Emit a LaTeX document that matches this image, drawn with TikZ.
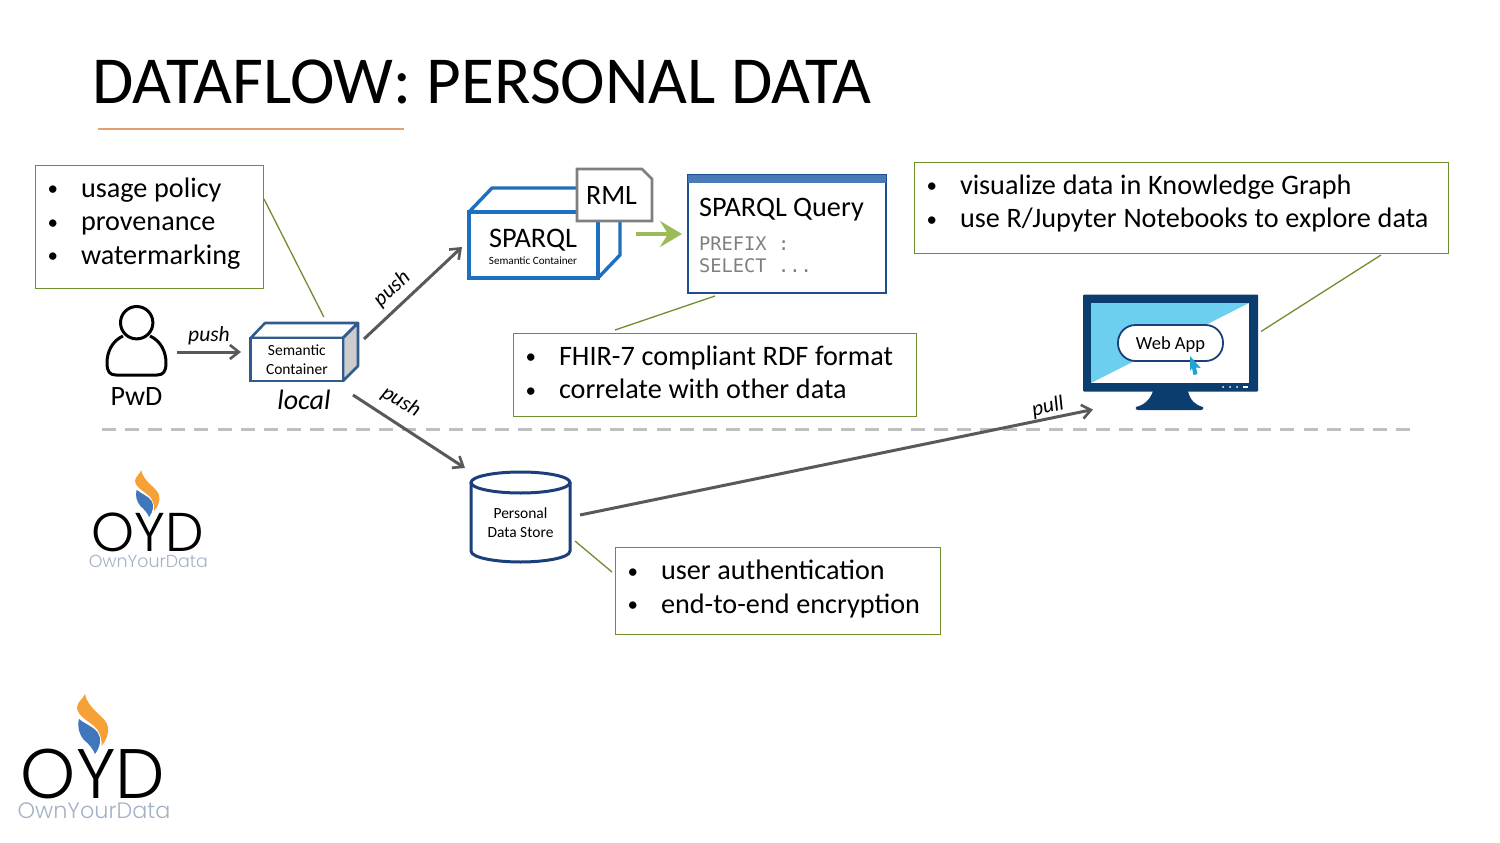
\documentclass[tikz,border=0pt]{standalone}
\usepackage{fontspec}
\setmainfont{Carlito}
\newfontfamily\logofont{Poppins}
\newfontfamily\logolight{Poppins Light}
\newfontfamily\codefont{DejaVu Sans Mono}
\usetikzlibrary{arrows.meta,calc}
\definecolor{calloutgreen}{HTML}{6F8F2F}
\definecolor{flowgrey}{HTML}{595959}
\definecolor{boxblue}{HTML}{2F5B8F}
\definecolor{sparqlblue}{HTML}{1F6FC0}
\definecolor{queryblue}{HTML}{1F4E8F}
\definecolor{querybar}{HTML}{4A7AB5}
\definecolor{navy}{HTML}{0B3E6F}
\definecolor{skyblue}{HTML}{6CCFF0}
\definecolor{cursorblue}{HTML}{1FA5D0}
\definecolor{storeblue}{HTML}{1A3F7A}
\definecolor{arrowgreen}{HTML}{9BBB59}
\definecolor{rmlgrey}{HTML}{7F7F7F}
\definecolor{dashgrey}{HTML}{BFBFBF}
\definecolor{ruleorange}{HTML}{E0A070}
\definecolor{flameorange}{HTML}{F6A135}
\definecolor{flameblue}{HTML}{4077BC}
\definecolor{logotext}{HTML}{A3B2C6}
\newcommand{\bl}[1]{\makebox[33.5pt][l]{\raisebox{1.5pt}{\fontsize{21}{21}\selectfont •}}{\spaceskip=0.24em #1}}
\newcommand{\tailskip}[1]{\par\vskip#1pt\hrule height 0pt width 0pt}
\newcommand{\oydlogo}[3]{%
\begin{scope}[shift={(#1,#2)},scale=#3,transform shape]
\fill[flameorange] (85,694) .. controls (83,699) and (77,702) .. (77,708) .. controls (78,717) and (91,722) .. (97,729) .. controls (101,735) and (102,741) .. (101.5,746) .. controls (106,741) and (109,734) .. (108,727) .. controls (106,716) and (88,710) .. (85,694) -- cycle;
\fill[flameblue] (79,719) .. controls (77,727) and (79,734) .. (84,740) .. controls (89,744) and (93,749) .. (95,754) .. controls (100,747) and (102,739) .. (98,733) .. controls (94,727) and (85,724) .. (79,719) -- cycle;
\node[anchor=base,inner sep=0,font=\logolight\fontsize{70}{70}\selectfont,text=black] (logoletters#1) at (93,798) {OYD};
\node[anchor=base,inner sep=0,font=\logolight\fontsize{22.3}{22.3}\selectfont,text=logotext] (logoname#1) at (94,818) {OwnYourData};
\end{scope}}
\tikzset{
  callout/.style={draw=calloutgreen,line width=1pt,fill=white,inner sep=0pt,outer sep=0pt,align=left,font=\fontsize{28.2}{33.5}\selectfont,text=black},
  leader/.style={draw=calloutgreen,line width=1.3pt},
  flow/.style={draw=flowgrey,line width=3pt,-{Straight Barb[length=9pt,width=14pt,line width=2.6pt]}},
  flowlabel/.style={font=\itshape\fontsize{21.5}{21.5}\selectfont,text=black,inner sep=0pt},
  shapebox/.style={inner sep=0pt,outer sep=0pt},
}
\begin{document}
\begin{tikzpicture}[x=1pt,y=-1pt]
\useasboundingbox (0,0) rectangle (1500,843);
\fill[white] (0,0) rectangle (1500,843);
% title
\node[anchor=base west,inner sep=0,font=\fontsize{67.2}{67.2}\selectfont] (title) at (92,103) {DATAFLOW: PERSONAL DATA};
\draw[ruleorange,line width=1.1pt] ([xshift=6,yshift=-26]title.base west) -- ([xshift=312,yshift=-26]title.base west);
% divider
\node[shapebox,minimum width=0pt] (dl) at (102,429) {};
\node[shapebox,minimum width=0pt] (dr) at (1410,429) {};
\draw[dashgrey,line width=3pt,dash pattern=on 14pt off 9.107pt] (dl) -- (dr);
% person
\node[shapebox,minimum width=63pt,minimum height=69pt] (person) at (136.5,341.5) {};
\draw[black,line width=3pt] (136.7,322.7) circle[radius=16.2];
\draw[black,line width=3pt,line join=round] (123,336) .. controls (112,341) and (107,352) .. (107,363) .. controls (107,372) and (110,375) .. (116,375) -- (157,375) .. controls (163,375) and (166,372) .. (166,363) .. controls (166,352) and (161,341) .. (150,336);
\node[inner sep=0,font=\fontsize{28}{28}\selectfont] (pwd) at (136.5,397) {PwD};
% semantic container (local)
\filldraw[fill=white,draw=boxblue,line width=2.6pt,line join=round] (250.7,338) -- (265,323) -- (358,323) -- (343,338) -- cycle;
\filldraw[fill=black!20,draw=boxblue,line width=2.6pt,line join=round] (343,338) -- (358,323) -- (358,366) -- (343,381) -- cycle;
\node[shapebox,draw=boxblue,fill=white,line width=2.6pt,minimum width=92.3pt,minimum height=43pt,align=center,font=\fontsize{15.5}{18.5}\selectfont] (sc) at (296.85,359.5) {Semantic\\Container};
\node[inner sep=0,font=\itshape\fontsize{28}{28}\selectfont] (local) at (304,400) {local};
% SPARQL container
\draw[sparqlblue,line width=3.4pt,line join=round,fill=white] (469,212) -- (492,188) -- (620,188) -- (620,255) -- (598,278) -- (598,212) -- cycle;
\draw[sparqlblue,line width=3.4pt] (598,212) -- (620,188);
\node[shapebox,draw=sparqlblue,fill=white,line width=3.4pt,minimum width=129pt,minimum height=66pt] (sp) at (533.5,245) {};
\node[inner sep=0,font=\fontsize{28.3}{28.3}\selectfont] (sptitle) at (533,240.5) {SPARQL};
\node[inner sep=0,font=\fontsize{11.1}{11.1}\selectfont] (spsub) at (533,261) {Semantic Container};
\filldraw[fill=white,draw=rmlgrey,line width=2.6pt] (577,169) -- (642,169) -- (652,179) -- (652,221) -- (577,221) -- cycle;
\node[inner sep=0,font=\fontsize{28}{28}\selectfont] (rml) at (611.5,195.5) {RML};
% query
\node[shapebox,draw=queryblue,fill=white,line width=2.6pt,minimum width=198pt,minimum height=118pt] (query) at (787,234) {};
\fill[querybar] (688,175) rectangle (886,183);
\node[anchor=base west,inner sep=0,font=\fontsize{28.2}{28.2}\selectfont] (qtitle) at (699,216) {SPARQL Query};
\node[anchor=base west,inner sep=0,font=\codefont\fontsize{18.7}{18.7}\selectfont,text=rmlgrey] (q1) at (699,250) {PREFIX :};
\node[anchor=base west,inner sep=0,font=\codefont\fontsize{18.7}{18.7}\selectfont,text=rmlgrey] (q2) at (699,272) {SELECT ...};
\draw[arrowgreen,line width=4.5pt,-{Stealth[length=22pt,width=26pt,inset=8pt]}] ([xshift=38,yshift=11]sp.east) -- ([xshift=-6]query.west);
% store
\node[shapebox,minimum width=99pt,minimum height=91pt] (store) at (520.5,517.5) {};
\draw[storeblue,line width=3pt,fill=white] (471,482.5) -- (471,551) .. controls (471,558) and (497,562) .. (520.5,562) .. controls (544,562) and (570,558) .. (570,551) -- (570,482.5);
\draw[storeblue,line width=3pt,fill=white] (520.5,482.5) ellipse[x radius=49.5,y radius=10.5];
\node[inner sep=0,align=center,font=\fontsize{15.5}{19}\selectfont] (storelabel) at (520.5,522.5) {Personal\\Data Store};
% monitor
\node[shapebox,fill=navy,minimum width=175pt,minimum height=97pt,rounded corners=1pt] (monitor) at (1170.5,343) {};
\fill[white] (1091,303) rectangle (1249,383);
\fill[skyblue] (1091,303) -- (1249,303) -- (1091,383) -- cycle;
\fill[navy] (1153,391) -- (1188,391) .. controls (1190,400) and (1195,405) .. (1203,407) .. controls (1204,409) and (1203,410) .. (1201,410) -- (1138,410) .. controls (1136,410) and (1135,409) .. (1136,407) .. controls (1144,405) and (1150,400) .. (1153,391) -- cycle;
\foreach \dotx in {1223,1230,1237} \fill[white] (\dotx,387) circle[radius=1];
\fill[white] (1243,386.3) rectangle (1248,387.7);
\node[shapebox,draw=storeblue,fill=white,line width=1.8pt,minimum width=105pt,minimum height=36pt,rounded corners=17.5pt] (webapp) at (1170.5,343) {};
\node[inner sep=0,font=\fontsize{18.5}{18.5}\selectfont] (webapplabel) at (1170.5,345) {Web App};
\fill[cursorblue] (1190,356) -- (1200.7,368) -- (1196,367.5) -- (1197.5,374) -- (1193.5,375) -- (1192,368) -- (1190,371) -- cycle;
% callouts
\node[callout,minimum width=228pt,minimum height=123pt,text width=203pt] (c1) at (149,226.5) {\bl{usage policy}\\\bl{provenance}\\\bl{watermarking}\tailskip{6}};
\node[callout,minimum width=403pt,minimum height=83pt,text width=378pt] (c2) at (714.5,374.5) {\bl{FHIR-7 compliant RDF format}\\\bl{correlate with other data}\tailskip{4}};
\node[callout,minimum width=534pt,minimum height=91pt,text width=509pt] (c3) at (1181,207.5) {\bl{visualize data in Knowledge Graph}\\\bl{use R/Jupyter Notebooks to explore data}\tailskip{8}};
\node[callout,minimum width=325pt,minimum height=87pt,text width=300pt] (c4) at (777.5,590.5) {\bl{user authentication}\\\bl{end-to-end encryption}\tailskip{3}};
% leaders
\draw[leader] ([xshift=1,yshift=27.5]c1.east) -- ([xshift=27,yshift=21]sc.north);
\draw[leader] ([xshift=-72,yshift=-3]query.south) -- ([xshift=-99.5,yshift=3]c2.north);
\draw[leader] ([xshift=200,yshift=-2]c3.south) -- ([xshift=3,yshift=11.5]monitor.east);
\draw[leader] ([xshift=5,yshift=-23.5]store.east) -- ([xshift=-3,yshift=18.5]c4.west);
% flows
\draw[flow] ([xshift=9,yshift=-10.5]person.east) -- ([xshift=-9.7,yshift=7.5]sc.west);
\draw[flow] ([xshift=21,yshift=20.5]sc.east) -- ([xshift=-7,yshift=-2]sp.west);
\draw[flow] ([xshift=10,yshift=-14]sc.south east) -- ([xshift=-6,yshift=4]store.north west);
\draw[flow] ([xshift=10,yshift=2.5]store.east) -- ([xshift=10,yshift=-18]monitor.south west);
\node[flowlabel] (l1) at (209,336) {push};
\node[flowlabel,rotate=43] (l2) at (392,289) {push};
\node[flowlabel,rotate=-31] (l3) at (401,402) {push};
\node[flowlabel,rotate=13] (l4) at (1048,407) {pull};
% logos
\oydlogo{75}{-71}{0.78}
\oydlogo{0}{0}{1}
\end{tikzpicture}
\end{document}
